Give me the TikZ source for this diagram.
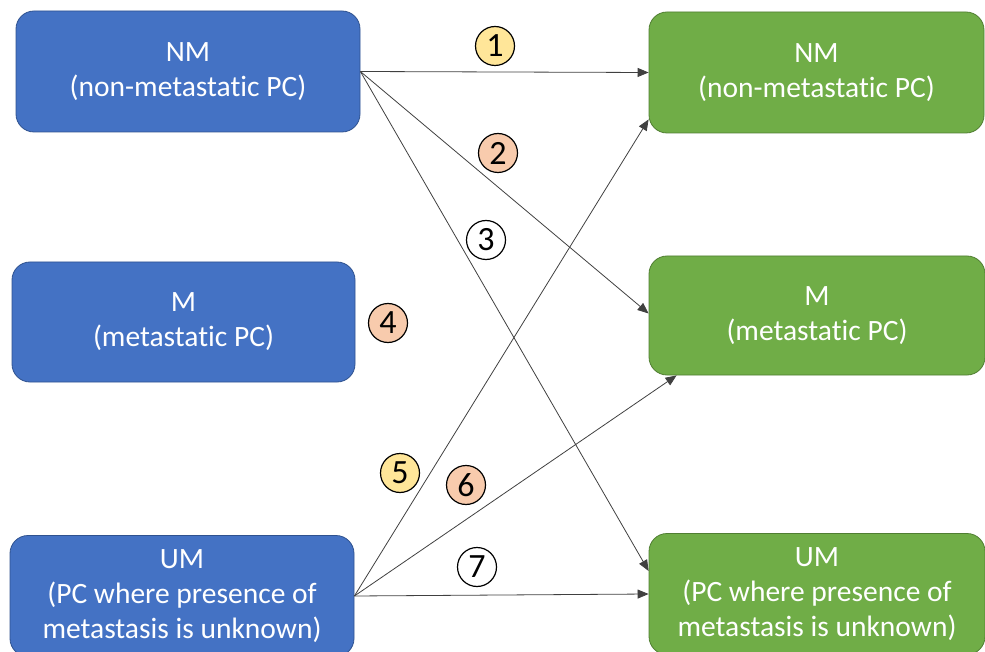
\documentclass[tikz,border=0pt]{standalone}
\usepackage{fontspec}
\setmainfont{Carlito}[Ligatures=NoCommon]
\usepackage{xcolor}
\usepackage{tikz}
\usetikzlibrary{positioning,calc,arrows.meta}

\definecolor{fromblue}{HTML}{4472C4}
\definecolor{fromline}{HTML}{2F528F}
\definecolor{togreen}{HTML}{70AD47}
\definecolor{toline}{HTML}{507E32}
\definecolor{numyellow}{HTML}{FFE699}
\definecolor{numpeach}{HTML}{F8CBAD}

\tikzset{
  stagebox/.style={draw, rounded corners=18pt, line width=0.8pt, text=white, align=center,
    font=\fontsize{29.5}{35}\selectfont, inner sep=0pt},
  frombox/.style={stagebox, fill=fromblue, draw=fromline},
  tobox/.style={stagebox, fill=togreen, draw=toline},
  flow/.style={draw=black!75, line width=0.8pt, -{Triangle[length=11pt,width=9pt]}},
  numtag/.style={circle, draw, line width=1.2pt, minimum size=39pt, inner sep=0pt,
    font=\fontsize{34}{34}\selectfont}
}

\begin{document}
\begin{tikzpicture}[x=1pt,y=-1pt]
    \useasboundingbox (0,0) rectangle (985,652);
    \clip (0,0) rectangle (985,652);

    % starting categories
    \node [frombox, minimum width=344pt, minimum height=121pt] (lnm) at (188,71.5) {NM\\(non-metastatic PC)};
    \node [frombox, minimum width=343pt, minimum height=120pt] (lm) at (183.5,322) {M\\(metastatic PC)};
    \node [frombox, minimum width=344pt, minimum height=121pt] (lum) at (182,596) {UM\\(PC where presence of\\metastasis is unknown)};

    % final categories
    \node [tobox, minimum width=335pt, minimum height=121pt] (rnm) at (816.5,72.5) {NM\\(non-metastatic PC)};
    \node [tobox, minimum width=336pt, minimum height=119pt] (rm) at (817,315.5) {M\\(metastatic PC)};
    \node [tobox, minimum width=336pt, minimum height=121pt] (rum) at (817,594) {UM\\(PC where presence of\\metastasis is unknown)};

    % transitions
    \draw [flow] (lnm.east) -- (rnm.west);
    \draw [flow] (lnm.east) -- ([yshift=2pt]rm.west);
    \draw [flow] (lnm.east) -- ([yshift=23pt]rum.west);
    \draw [flow] (lum.east) -- ([yshift=14pt]rnm.south west);
    \draw [flow] (lum.east) -- ([xshift=28pt]rm.south west);
    \draw [flow] (lum.east) -- (rum.west);

    % numbers
    \node [numtag, fill=numyellow] (n1) at (495,46) {1};
    \node [numtag, fill=numpeach] (n2) at (498,153) {2};
    \node [numtag, fill=white] (n3) at (486,240) {3};
    \node [numtag, fill=numpeach] (n4) at (388,323) {4};
    \node [numtag, fill=numyellow] (n5) at (400,473) {5};
    \node [numtag, fill=numpeach] (n6) at (466,485) {6};
    \node [numtag, fill=white] (n7) at (477,567) {7};
\end{tikzpicture}
\end{document}
